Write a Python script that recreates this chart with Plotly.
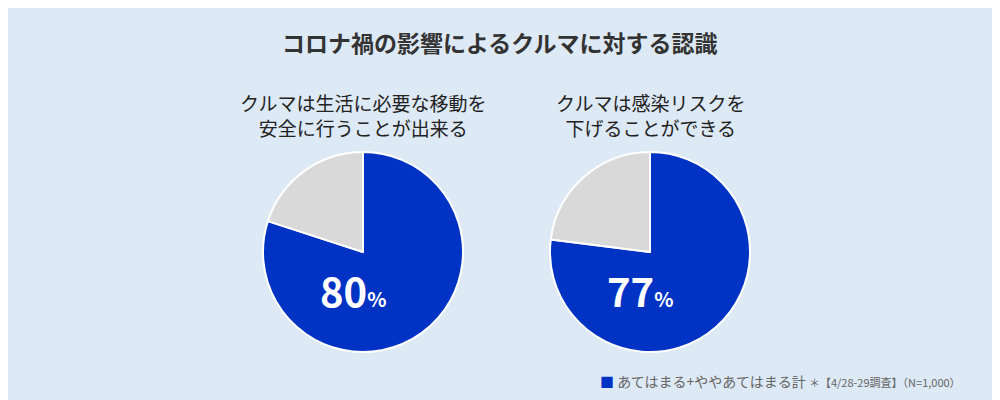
import plotly.graph_objects as go

titles = ["クルマは生活に必要な移動を<br>安全に行うことが出来る", "クルマは感染リスクを<br>下げることができる"]
labels = ["あてはまる+ややあてはまる計", "その他"]
values_1 = [80, 20]
values_2 = [77, 23]
colors = ["#0033c4", "#d9d9d9"]
bg = "#dde9f5"
font = "Noto Sans CJK JP"

# page body has an 8px margin, so positions are given in figure pixels (screen - 8)
def px(x):
    return (x - 8) / 1000

def py(y):
    return 1 - (y - 8) / 400

fig = go.Figure()
centers = [363, 650]
for i, (vals, cx) in enumerate(zip([values_1, values_2], centers)):
    fig.add_trace(go.Pie(
        labels=labels, values=vals, sort=False, direction="clockwise", rotation=0,
        marker=dict(colors=colors, line=dict(color="white", width=2)),
        textinfo="none", hoverinfo="label+percent", showlegend=False,
        domain=dict(x=[px(cx) - 0.1, px(cx) + 0.1], y=[py(252) - 0.25, py(252) + 0.25]),
    ))
    fig.add_annotation(x=px(cx), y=py(115), xref="paper", yref="paper", text=titles[i],
                       xanchor="center", yanchor="middle", showarrow=False,
                       font=dict(size=19, color="#222", family=font))
    fig.add_annotation(x=px(cx - 10), y=py(290), xref="paper", yref="paper",
                       xanchor="center", yanchor="middle",
                       text=f"<b>{vals[0]}</b><b><span style='font-size:20px'>%</span></b>",
                       showarrow=False, font=dict(size=40, color="white", family=font))

fig.add_annotation(x=px(500), y=py(42), xref="paper", yref="paper", xanchor="center", yanchor="middle",
                   text="<b>コロナ禍の影響によるクルマに対する認識</b>", showarrow=False,
                   font=dict(size=23, color="#333", family=font))
fig.add_annotation(x=px(598), y=py(381), xref="paper", yref="paper", xanchor="left", yanchor="middle",
                   text="<span style='color:#0033c4'>■</span> あてはまる+ややあてはまる計 "
                        "<span style='font-size:11px'>＊【4/28-29調査】（N=1,000）</span>",
                   showarrow=False, font=dict(size=14, color="#666", family=font))

fig.update_layout(width=1000, height=400, margin=dict(l=0, r=0, t=0, b=0),
                  paper_bgcolor=bg, plot_bgcolor=bg)
fig.write_html("out.html")
